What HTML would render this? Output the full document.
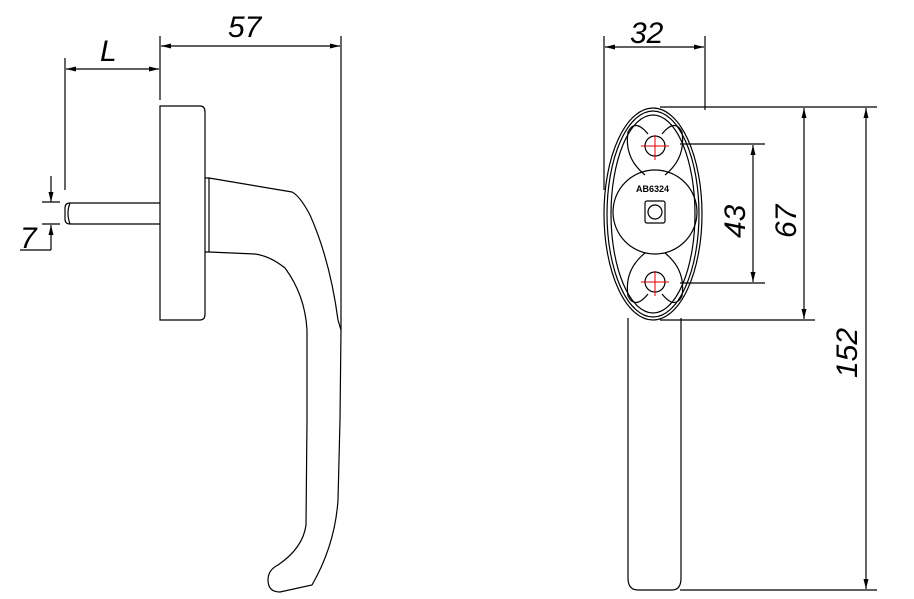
<!DOCTYPE html>
<html><head><meta charset="utf-8"><style>html,body{margin:0;padding:0;background:#fff}svg{display:block}</style></head>
<body>
<svg width="914" height="599" viewBox="0 0 914 599" xmlns="http://www.w3.org/2000/svg" fill="none" stroke="#000" stroke-width="1.2">
<defs>
<marker id="a" viewBox="0 0 10 6" refX="10" refY="3" markerWidth="10" markerHeight="6" orient="auto-start-reverse" markerUnits="userSpaceOnUse"><path d="M0,0.5 L10,3 L0,5.5z" fill="#000" stroke="none"/></marker>
</defs>
<g font-family="Liberation Sans, sans-serif" font-size="30" fill="#000" stroke="none" font-style="italic">
<text x="228" y="37">57</text>
<text x="100" y="61">L</text>
<text x="20" y="248">7</text>
<text x="630" y="43">32</text>
<text transform="translate(745,238) rotate(-90)">43</text>
<text transform="translate(796,238) rotate(-90)">67</text>
<text transform="translate(857,378) rotate(-90)">152</text>
</g>
<line x1="160" y1="36" x2="160" y2="100"/>
<line x1="341" y1="36" x2="341" y2="330"/>
<line x1="161" y1="46" x2="340" y2="46" marker-start="url(#a)" marker-end="url(#a)"/>
<line x1="65" y1="58" x2="65" y2="190"/>
<line x1="66" y1="69" x2="159" y2="69" marker-start="url(#a)" marker-end="url(#a)"/>
<line x1="51" y1="176" x2="51" y2="202" marker-end="url(#a)"/>
<line x1="51" y1="250" x2="51" y2="225" marker-end="url(#a)"/>
<line x1="42" y1="202" x2="60" y2="202"/>
<line x1="42" y1="224" x2="60" y2="224"/>
<line x1="20" y1="250" x2="51" y2="250"/>
<path d="M160,106 H200 Q205,106 205,112 V314 Q205,320 200,320 H160 Z"/>
<path d="M160,203 H70 Q65,203 65,208 V219 Q65,224 70,224 H160"/>
<path d="M70,203 Q66,213 70,224"/>
<path d="M205,178 H209 V252 H205"/>
<path d="M209,178 L292,192 Q300,196 310,215 Q330,260 338,320 L341,330 L340,420 L338,500 Q335,545 312,585 L280,592 Q268,592 268,580 Q268,570 278,565 Q303,548 306,525 L307,420 L307,330 Q305,295 285,268 Q270,256 255,254 L209,252"/>
<line x1="604" y1="36" x2="604" y2="190"/>
<line x1="705" y1="36" x2="705" y2="110"/>
<line x1="605" y1="47" x2="704" y2="47" marker-start="url(#a)" marker-end="url(#a)"/>
<line x1="660" y1="107" x2="877" y2="107"/>
<line x1="660" y1="320" x2="815" y2="320"/>
<line x1="680" y1="144" x2="765" y2="144"/>
<line x1="680" y1="283" x2="765" y2="283"/>
<line x1="680" y1="590" x2="877" y2="590"/>
<line x1="753" y1="145" x2="753" y2="282" marker-start="url(#a)" marker-end="url(#a)"/>
<line x1="804" y1="108" x2="804" y2="319" marker-start="url(#a)" marker-end="url(#a)"/>
<line x1="866" y1="108" x2="866" y2="589" marker-start="url(#a)" marker-end="url(#a)"/>
<path d="M628,318 V578 Q628,590 638,590 H672 Q681,590 681,578 V318"/>
<ellipse cx="653" cy="214" rx="49" ry="106"/>
<ellipse cx="653" cy="214" rx="46" ry="103"/>
<ellipse cx="653" cy="214" rx="42" ry="99"/>
<circle cx="655" cy="212" r="42"/>
<circle cx="655" cy="146" r="10"/>
<circle cx="655" cy="282" r="10"/>
<path d="M648,134 Q635,118 628,132 Q624,158 645,175 M662,134 Q675,118 682,132 Q686,158 665,175"/>
<path d="M648,294 Q635,310 628,296 Q624,270 645,253 M662,294 Q675,310 682,296 Q686,270 665,253"/>
<rect x="645" y="201" width="20" height="22" rx="2"/>
<circle cx="655" cy="212" r="7"/>
<text x="636" y="192" font-family="Liberation Sans, sans-serif" font-size="9" font-weight="bold" fill="#000" stroke="none">AB6324</text>
<g stroke="#e00000" stroke-width="1"><line x1="641" y1="146" x2="669" y2="146"/><line x1="655" y1="135" x2="655" y2="160"/><line x1="641" y1="282" x2="669" y2="282"/><line x1="655" y1="271" x2="655" y2="296"/></g>
</svg>
</body></html>
